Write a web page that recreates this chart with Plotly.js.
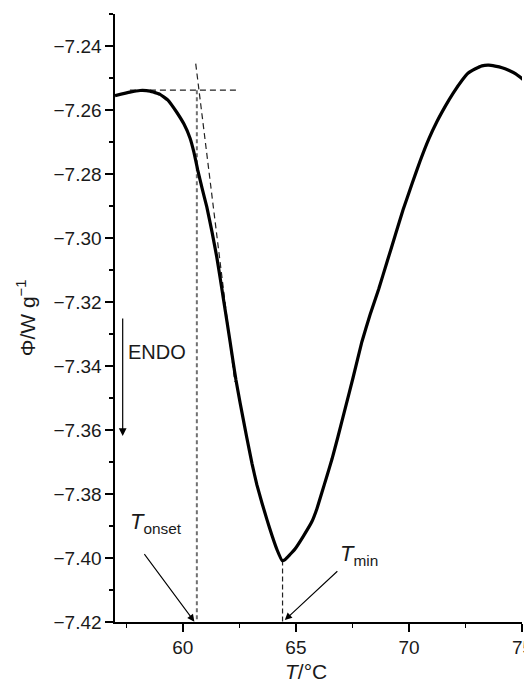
<!DOCTYPE html>
<html>
<head>
<meta charset="utf-8">
<script src="https://cdn.plot.ly/plotly-3.0.1.min.js"></script>
<style>html,body{margin:0;padding:0;background:#fff;}#chart{width:524px;height:684px;}</style>
</head>
<body>
<div id="chart"></div>
<script>
// DSC curve: temperature (°C) and heat flow (W/g)
const temperature = [57.00, 57.66, 58.11, 58.55, 58.99, 59.34, 59.73, 60.05, 60.32, 60.49, 60.66, 60.85, 61.06, 61.29, 61.50, 61.64, 61.79, 61.95, 62.09, 62.22, 62.35, 62.53, 62.83, 63.06, 63.27, 63.50, 63.72, 63.94, 64.17, 64.39, 64.52, 64.74, 64.97, 65.32, 65.71, 65.93, 66.16, 66.38, 66.60, 66.86, 67.19, 67.53, 67.92, 68.28, 68.66, 69.03, 69.40, 69.74, 70.14, 70.49, 70.88, 71.24, 71.61, 71.95, 72.35, 72.61, 72.94, 73.23, 73.53, 73.81, 74.12, 74.41, 74.74, 75.09];
const heatFlow = [-7.2555, -7.2544, -7.2539, -7.2541, -7.2551, -7.2569, -7.2607, -7.2644, -7.2688, -7.2732, -7.2788, -7.2844, -7.2903, -7.2981, -7.3059, -7.3120, -7.3188, -7.3260, -7.3324, -7.3385, -7.3444, -7.3514, -7.3624, -7.3705, -7.3770, -7.3828, -7.3880, -7.3929, -7.3975, -7.4008, -7.4005, -7.3989, -7.3971, -7.3933, -7.3886, -7.3846, -7.3793, -7.3742, -7.3690, -7.3621, -7.3530, -7.3436, -7.3324, -7.3240, -7.3160, -7.3075, -7.2990, -7.2912, -7.2830, -7.2760, -7.2690, -7.2636, -7.2588, -7.2548, -7.2507, -7.2485, -7.2471, -7.2462, -7.2460, -7.2463, -7.2468, -7.2476, -7.2488, -7.2507];

// Construction lines
const baselineX = [57.66, 62.46];
const baselineY = [-7.2538, -7.2538];
const tangentX = [60.57, 62.30];
const tangentY = [-7.2455, -7.3450];
const onsetX = [60.62, 60.62];
const onsetY = [-7.2538, -7.42];
const minX = [64.41, 64.41];
const minY = [-7.4008, -7.42];

const xTickVals = [60, 65, 70, 75];
const yTickVals = [-7.42, -7.40, -7.38, -7.36, -7.34, -7.32, -7.30, -7.28, -7.26, -7.24];

const FONT = '"Liberation Sans", Arial, Helvetica, sans-serif';
const TXT = '#1a1a1a';

const traces = [
  {x: baselineX, y: baselineY, mode: 'lines', line: {color: '#222', width: 1.2, dash: '6px,4px'}, hoverinfo: 'skip'},
  {x: tangentX, y: tangentY, mode: 'lines', line: {color: '#222', width: 1.2, dash: '6px,4px'}, hoverinfo: 'skip'},
  {x: onsetX, y: onsetY, mode: 'lines', line: {color: '#707070', width: 2, dash: '4px,3px'}, hoverinfo: 'skip'},
  {x: minX, y: minY, mode: 'lines', line: {color: '#222', width: 1.2, dash: '5px,3px'}, hoverinfo: 'skip'},
  {x: temperature, y: heatFlow, mode: 'lines', line: {color: '#000', width: 3.2, shape: 'spline', smoothing: 0.3}}
];

const layout = {
  width: 524, height: 684,
  margin: {l: 115, r: 2, t: 14, b: 62},
  paper_bgcolor: '#fff', plot_bgcolor: '#fff',
  showlegend: false,
  font: {family: FONT, color: TXT, size: 19},
  xaxis: {
    range: [57, 75], tickvals: xTickVals, ticktext: xTickVals.map(String),
    showgrid: false, zeroline: false, showline: true, linecolor: '#000', linewidth: 1.6,
    ticks: 'outside', ticklen: 8, tickwidth: 1.4, tickcolor: '#000',
    tickfont: {family: FONT, size: 19, color: TXT},
    minor: {dtick: 2.5, tick0: 57.5, ticks: 'outside', ticklen: 4, tickwidth: 1.2, tickcolor: '#000', showgrid: false}
  },
  yaxis: {
    range: [-7.42, -7.23], tickvals: yTickVals, tickformat: '.2f',
    showgrid: false, zeroline: false, showline: true, linecolor: '#000', linewidth: 1.6,
    ticks: 'outside', ticklen: 8, tickwidth: 1.4, tickcolor: '#000',
    tickfont: {family: FONT, size: 19, color: TXT},
    minor: {dtick: 0.01, tick0: -7.42, ticks: 'outside', ticklen: 4, tickwidth: 1.2, tickcolor: '#000', showgrid: false},
    title: {text: 'Φ/W g<sup>−1</sup>', font: {family: FONT, size: 21, color: TXT}, standoff: 12}
  },
  annotations: [
    {xref: 'x', yref: 'paper', x: 75, y: -0.022, text: '75', showarrow: false,
     xanchor: 'center', yanchor: 'top', font: {family: FONT, size: 19, color: TXT}},
    {xref: 'x', yref: 'paper', x: 65.45, y: -0.081, text: '<i>T</i>/°C', showarrow: false,
     xanchor: 'center', yanchor: 'middle', font: {family: FONT, size: 21, color: TXT}},
    {xref: 'x', yref: 'y', x: 57.50, y: -7.3355, text: 'ENDO', showarrow: false,
     xanchor: 'left', yanchor: 'middle', font: {family: FONT, size: 20, color: TXT}},
    {xref: 'x', yref: 'y', x: 57.34, y: -7.3619, axref: 'x', ayref: 'y', ax: 57.34, ay: -7.3247,
     text: '', showarrow: true, arrowhead: 2, arrowsize: 1.3, arrowwidth: 1.2, arrowcolor: '#000', standoff: 0},
    {xref: 'x', yref: 'y', x: 57.56, y: -7.3890, text: '<i>T</i><sub>onset</sub>', showarrow: false,
     xanchor: 'left', yanchor: 'middle', font: {family: FONT, size: 22, color: TXT}},
    {xref: 'x', yref: 'y', x: 60.51, y: -7.4199, axref: 'x', ayref: 'y', ax: 58.25, ay: -7.3983,
     text: '', showarrow: true, arrowhead: 2, arrowsize: 1.3, arrowwidth: 1.1, arrowcolor: '#000', standoff: 0},
    {xref: 'x', yref: 'y', x: 66.86, y: -7.3990, text: '<i>T</i><sub>min</sub>', showarrow: false,
     xanchor: 'left', yanchor: 'middle', font: {family: FONT, size: 22, color: TXT}},
    {xref: 'x', yref: 'y', x: 64.51, y: -7.4194, axref: 'x', ayref: 'y', ax: 66.9, ay: -7.4037,
     text: '', showarrow: true, arrowhead: 2, arrowsize: 1.3, arrowwidth: 1.1, arrowcolor: '#000', standoff: 0}
  ]
};

Plotly.newPlot('chart', traces, layout, {displayModeBar: false, staticPlot: true});
</script>
</body>
</html>
